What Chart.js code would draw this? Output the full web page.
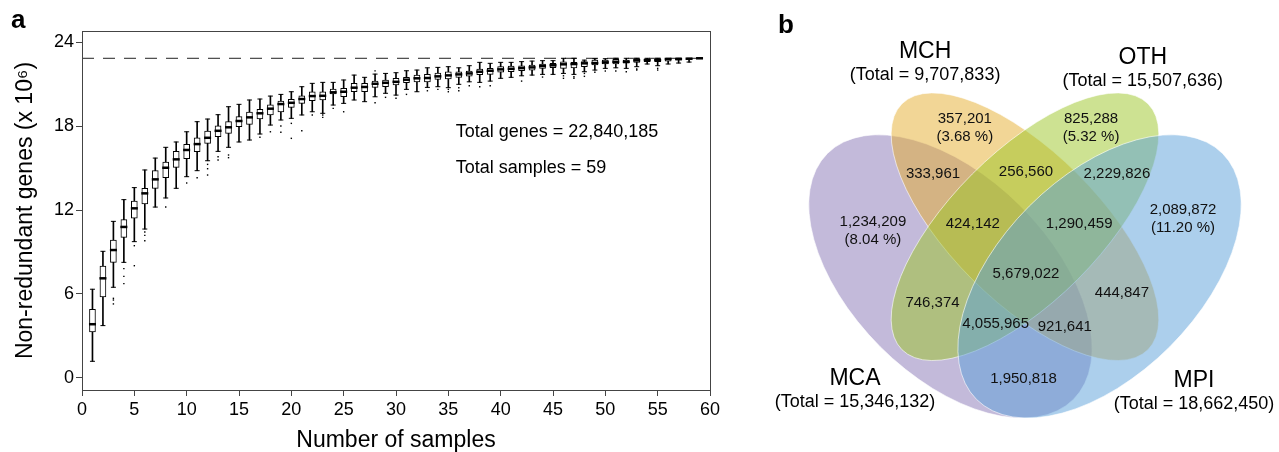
<!DOCTYPE html>
<html lang="en">
<head>
<meta charset="UTF-8">
<title>Non-redundant genes and Venn diagram</title>
<script src="https://cdn.jsdelivr.net/npm/chart.js"></script>
<style>
  body { margin: 0; background: #fff; }
  #wrap { position: relative; width: 1279px; height: 452px; }
  #boxes { position: absolute; left: 0; top: 0; }
  #venn { position: absolute; left: 740px; top: 0; }
</style>
</head>
<body>
<div id="wrap">
  <canvas id="boxes" width="740" height="452"></canvas>
  <canvas id="venn" width="539" height="452"></canvas>
</div>
<script>
// ---- panel a: rarefaction boxplots (values in millions) ----
const samples = [1,2,3,4,5,6,7,8,9,10,11,12,13,14,15,16,17,18,19,20,21,22,23,24,25,26,27,28,29,30,
  31,32,33,34,35,36,37,38,39,40,41,42,43,44,45,46,47,48,49,50,51,52,53,54,55,56,57,58,59];
const whiskLo = [1.19,3.74,6.48,8.26,9.74,10.64,12.21,12.86,13.55,14.38,14.81,15.52,16.19,16.48,16.86,17.00,17.43,18.07,18.43,18.55,
  18.79,19.02,18.91,19.50,19.62,19.86,19.74,20.09,20.34,20.21,20.62,20.45,20.76,20.81,20.74,20.98,21.16,21.12,21.21,21.41,
  21.48,21.59,21.64,21.69,21.69,21.76,21.69,21.88,22.00,22.12,22.16,22.12,22.24,22.43,22.31,22.43,22.50,22.57,22.84];
const q1 = [3.29,5.79,8.26,10.05,11.41,12.43,13.55,14.31,15.05,15.66,16.16,16.76,17.24,17.48,17.95,18.12,18.50,18.79,19.00,19.33,
  19.62,19.81,19.86,20.29,20.09,20.45,20.45,20.76,20.81,20.93,21.09,21.16,21.16,21.33,21.36,21.48,21.57,21.67,21.69,21.84,
  21.88,21.95,22.00,22.12,22.17,22.12,22.16,22.24,22.36,22.43,22.43,22.50,22.55,22.60,22.60,22.64,22.71,22.76,22.84];
const medians = [3.84,7.12,9.14,10.79,12.12,13.19,14.19,15.02,15.62,16.29,16.71,17.16,17.66,17.91,18.36,18.62,18.91,19.24,19.57,19.66,
  19.93,20.14,20.16,20.41,20.45,20.74,20.79,21.02,21.09,21.16,21.31,21.41,21.43,21.55,21.62,21.69,21.76,21.88,21.95,22.05,
  22.09,22.14,22.19,22.29,22.34,22.41,22.43,22.48,22.50,22.55,22.59,22.59,22.69,22.71,22.71,22.79,22.79,22.81,22.84];
const q3 = [4.91,8.00,9.86,11.31,12.64,13.55,14.81,15.43,16.19,16.69,17.16,17.64,18.02,18.31,18.67,18.99,19.19,19.52,19.79,19.91,
  20.16,20.45,20.45,20.64,20.69,21.05,21.05,21.21,21.29,21.41,21.48,21.64,21.69,21.79,21.88,21.88,21.93,22.07,22.12,22.24,
  22.29,22.31,22.36,22.43,22.48,22.59,22.55,22.60,22.71,22.71,22.76,22.71,22.79,22.81,22.79,22.81,22.81,22.84,22.84];
const whiskHi = [6.34,9.05,11.19,12.74,13.60,14.86,15.71,16.48,16.86,17.59,18.31,18.50,18.81,19.38,19.55,19.86,19.93,20.14,20.26,20.45,
  20.81,21.05,21.12,21.12,21.29,21.64,21.48,21.71,21.76,21.81,21.95,22.00,22.16,22.19,22.24,22.16,22.31,22.55,22.48,22.55,
  22.55,22.60,22.64,22.67,22.67,22.84,22.84,22.71,22.81,22.81,22.84,22.84,22.84,22.84,22.84,22.84,22.84,22.84,22.84];
const outliers = [[],[],[5.69,5.57,5.29],[7.81,7.26,6.74],[9.45,8.02],[10.43,10.19,9.80],[],[12.21],[],[13.93],
  [14.31],[15.26,14.95,14.50],[15.81,15.57],[15.93,15.74],[],[],[17.20],[17.59],[18.00,17.55],[18.19,17.12],
  [17.66],[18.79],[18.79,18.62],[19.26],[19.02],[],[],[21.94,19.66],[20.05],[19.98],
  [20.26],[],[20.52],[20.62],[20.62,20.45],[20.74,20.52],[20.88],[20.81],[20.88],[],
  [],[21.21],[],[21.50],[],[21.59,21.41],[21.52,21.41],[21.76,21.55],[21.84],[21.93],
  [21.93],[21.88],[22.07,22.00],[],[22.12,22.00],[],[],[],[]];
const totalGenes = 22840185;
const xTicks = [0,5,10,15,20,25,30,35,40,45,50,55,60];
const yTicks = [0,6,12,18,24];

// ---- panel b: Venn diagram ----
const setNames = ['MCA', 'MCH', 'OTH', 'MPI'];
const setTotals = [15346132, 9707833, 15507636, 18662450];
// first four are the regions unique to MCA, MCH, OTH, MPI
const regionCounts = [1234209, 357201, 825288, 2089872, 333961, 256560, 2229826, 424142,
  1290459, 5679022, 746374, 444847, 4055965, 921641, 1950818];

// layout (unit square of the venn)
const regionU = [0.194,0.379,0.633,0.818,0.315,0.502,0.685,0.395,0.609,0.502,0.314,0.695,0.441,0.580,0.497];
const regionV = [0.580,0.788,0.788,0.604,0.677,0.681,0.677,0.575,0.575,0.476,0.417,0.437,0.374,0.368,0.263];
const setLabelU = [0.158, 0.299, 0.737, 0.840];
const setLabelV = [0.264, 0.922, 0.911, 0.260];
const ellCx = [0.35, 0.50, 0.50, 0.65];
const ellCy = [0.47, 0.57, 0.57, 0.47];
const ellA = [0.35, 0.35, 0.35, 0.35];
const ellB = [0.20, 0.15, 0.15, 0.20];
const ellRot = [45, 45, -45, -45];
const setColors = ['rgba(135,117,181,0.5)', 'rgba(229,173,45,0.5)', 'rgba(155,197,37,0.5)', 'rgba(89,159,217,0.5)'];

const FONT = '"Liberation Sans", Arial, Helvetica, sans-serif';
Chart.defaults.font.family = FONT;
Chart.defaults.color = '#000';

const fmt = v => v.toLocaleString('en-US');

const framePlugin = {
  id: 'frame',
  afterDraw(chart) {
    const {ctx, chartArea: a, scales: {x, y}} = chart;
    ctx.save();
    ctx.strokeStyle = '#444';
    ctx.lineWidth = 1;
    ctx.strokeRect(a.left + 0.5, a.top + 0.5, a.right - a.left, a.bottom - a.top);
    ctx.fillStyle = '#000';
    ctx.font = '18px ' + FONT;
    ctx.textBaseline = 'middle';
    ctx.textAlign = 'left';
    ctx.fillText('Total genes = ' + fmt(totalGenes), x.getPixelForValue(35.7), y.getPixelForValue(17.57));
    ctx.fillText('Total samples = ' + samples.length, x.getPixelForValue(35.7), y.getPixelForValue(15.0));
    ctx.font = 'bold 26px ' + FONT;
    ctx.textBaseline = 'alphabetic';
    ctx.fillText('a', 11, 28);
    ctx.restore();
  }
};

const capPts = [];
samples.forEach((n, i) => {
  capPts.push({x: n, y: whiskLo[i]});
  capPts.push({x: n, y: whiskHi[i]});
});
const outPts = [];
samples.forEach((n, i) => outliers[i].forEach(v => outPts.push({x: n, y: v})));

new Chart(document.getElementById('boxes'), {
  type: 'bar',
  data: {
    datasets: [
      {
        type: 'scatter',
        data: samples.map((n, i) => ({x: n, y: medians[i]})),
        pointStyle: 'line', pointRadius: 3.5, pointBorderWidth: 2.5,
        borderColor: '#000', backgroundColor: '#000'
      },
      {
        type: 'bar',
        data: samples.map((n, i) => ({x: n, y: [q1[i], q3[i]]})),
        backgroundColor: '#fff', borderColor: '#000', borderWidth: 1,
        borderSkipped: false, barThickness: 6, grouped: false
      },
      {
        type: 'scatter',
        data: capPts,
        pointStyle: 'line', pointRadius: 2.5, pointBorderWidth: 1,
        borderColor: '#000'
      },
      {
        type: 'bar',
        data: samples.map((n, i) => ({x: n, y: [whiskLo[i], whiskHi[i]]})),
        backgroundColor: '#000', barThickness: 1, grouped: false
      },
      {
        type: 'scatter',
        data: outPts,
        pointStyle: 'rect', pointRadius: 1, pointBorderWidth: 0,
        backgroundColor: '#000', borderColor: '#000'
      },
      {
        type: 'line',
        data: [{x: 0, y: totalGenes / 1e6}, {x: 60, y: totalGenes / 1e6}],
        borderColor: '#222', borderWidth: 1, borderDash: [12, 9], pointRadius: 0
      }
    ]
  },
  options: {
    responsive: false,
    animation: false,
    layout: {padding: {top: 31, right: 30, left: 0, bottom: 0}},
    plugins: {legend: {display: false}, tooltip: {enabled: false}},
    scales: {
      x: {
        type: 'linear', min: 0, max: 60, offset: false,
        afterBuildTicks: s => { s.ticks = xTicks.map(v => ({value: v})); },
        afterFit: s => { s.height = 62; },
        ticks: {font: {size: 18}, padding: 3, maxRotation: 0},
        grid: {drawOnChartArea: false, offset: false, tickLength: 6, color: '#444'},
        border: {color: '#444'},
        title: {display: true, text: 'Number of samples', font: {size: 23, lineHeight: 1}, padding: {top: 0, bottom: 0}}
      },
      y: {
        type: 'linear', min: -0.86, max: 24.79,
        afterBuildTicks: s => { s.ticks = yTicks.map(v => ({value: v})); },
        afterFit: s => { s.width = 82; },
        ticks: {font: {size: 18}, padding: 2},
        grid: {drawOnChartArea: false, offset: false, tickLength: 6, color: '#444'},
        border: {color: '#444'},
        title: {display: true, text: 'Non-redundant genes (x 10\u2076)', font: {size: 23, lineHeight: 1}, padding: {top: 14, bottom: 0}}
      }
    }
  },
  plugins: [framePlugin]
});

const vennPlugin = {
  id: 'vennShapes',
  beforeDatasetsDraw(chart) {
    const {ctx, scales: {x, y}} = chart;
    const sx = x.getPixelForValue(1) - x.getPixelForValue(0);
    const sy = y.getPixelForValue(0) - y.getPixelForValue(1);
    ctx.save();
    for (let i = 0; i < 4; i++) {
      ctx.beginPath();
      ctx.ellipse(x.getPixelForValue(ellCx[i]), y.getPixelForValue(ellCy[i]),
        ellA[i] * sx, ellB[i] * sy, ellRot[i] * Math.PI / 180, 0, 2 * Math.PI);
      ctx.fillStyle = setColors[i];
      ctx.fill();
      ctx.strokeStyle = 'rgba(255,255,255,0.6)';
      ctx.lineWidth = 1;
      ctx.stroke();
    }
    ctx.restore();
  },
  afterDatasetsDraw(chart) {
    const {ctx, scales: {x, y}} = chart;
    const pts = chart.getDatasetMeta(0).data;
    ctx.save();
    ctx.fillStyle = '#111';
    ctx.textAlign = 'center';
    ctx.textBaseline = 'middle';
    ctx.font = '15px ' + FONT;
    pts.forEach((p, i) => {
      ctx.fillText(fmt(regionCounts[i]), p.x, p.y);
      if (i < 4) {
        const pct = (regionCounts[i] / setTotals[i] * 100).toFixed(2);
        ctx.fillText('(' + pct + ' %)', p.x, p.y + 18.5);
      }
    });
    ctx.fillStyle = '#000';
    for (let i = 0; i < 4; i++) {
      const px = x.getPixelForValue(setLabelU[i]);
      const py = y.getPixelForValue(setLabelV[i]);
      ctx.font = '23px ' + FONT;
      ctx.fillText(setNames[i], px, py);
      ctx.font = '18px ' + FONT;
      ctx.fillText('(Total = ' + fmt(setTotals[i]) + ')', px, py + 23.5);
    }
    ctx.font = 'bold 26px ' + FONT;
    ctx.textAlign = 'left';
    ctx.textBaseline = 'alphabetic';
    ctx.fillText('b', 38, 33);
    ctx.restore();
  }
};

new Chart(document.getElementById('venn'), {
  type: 'scatter',
  data: {
    datasets: [{
      data: regionU.map((u, i) => ({x: u, y: regionV[i]})),
      pointRadius: 0
    }]
  },
  options: {
    responsive: false,
    animation: false,
    layout: {padding: 0},
    plugins: {legend: {display: false}, tooltip: {enabled: false}},
    scales: {
      x: {type: 'linear', min: -0.0734, max: 1.0111, display: false},
      y: {type: 'linear', min: 0.1167, max: 1.0262, display: false}
    }
  },
  plugins: [vennPlugin]
});
</script>
</body>
</html>
